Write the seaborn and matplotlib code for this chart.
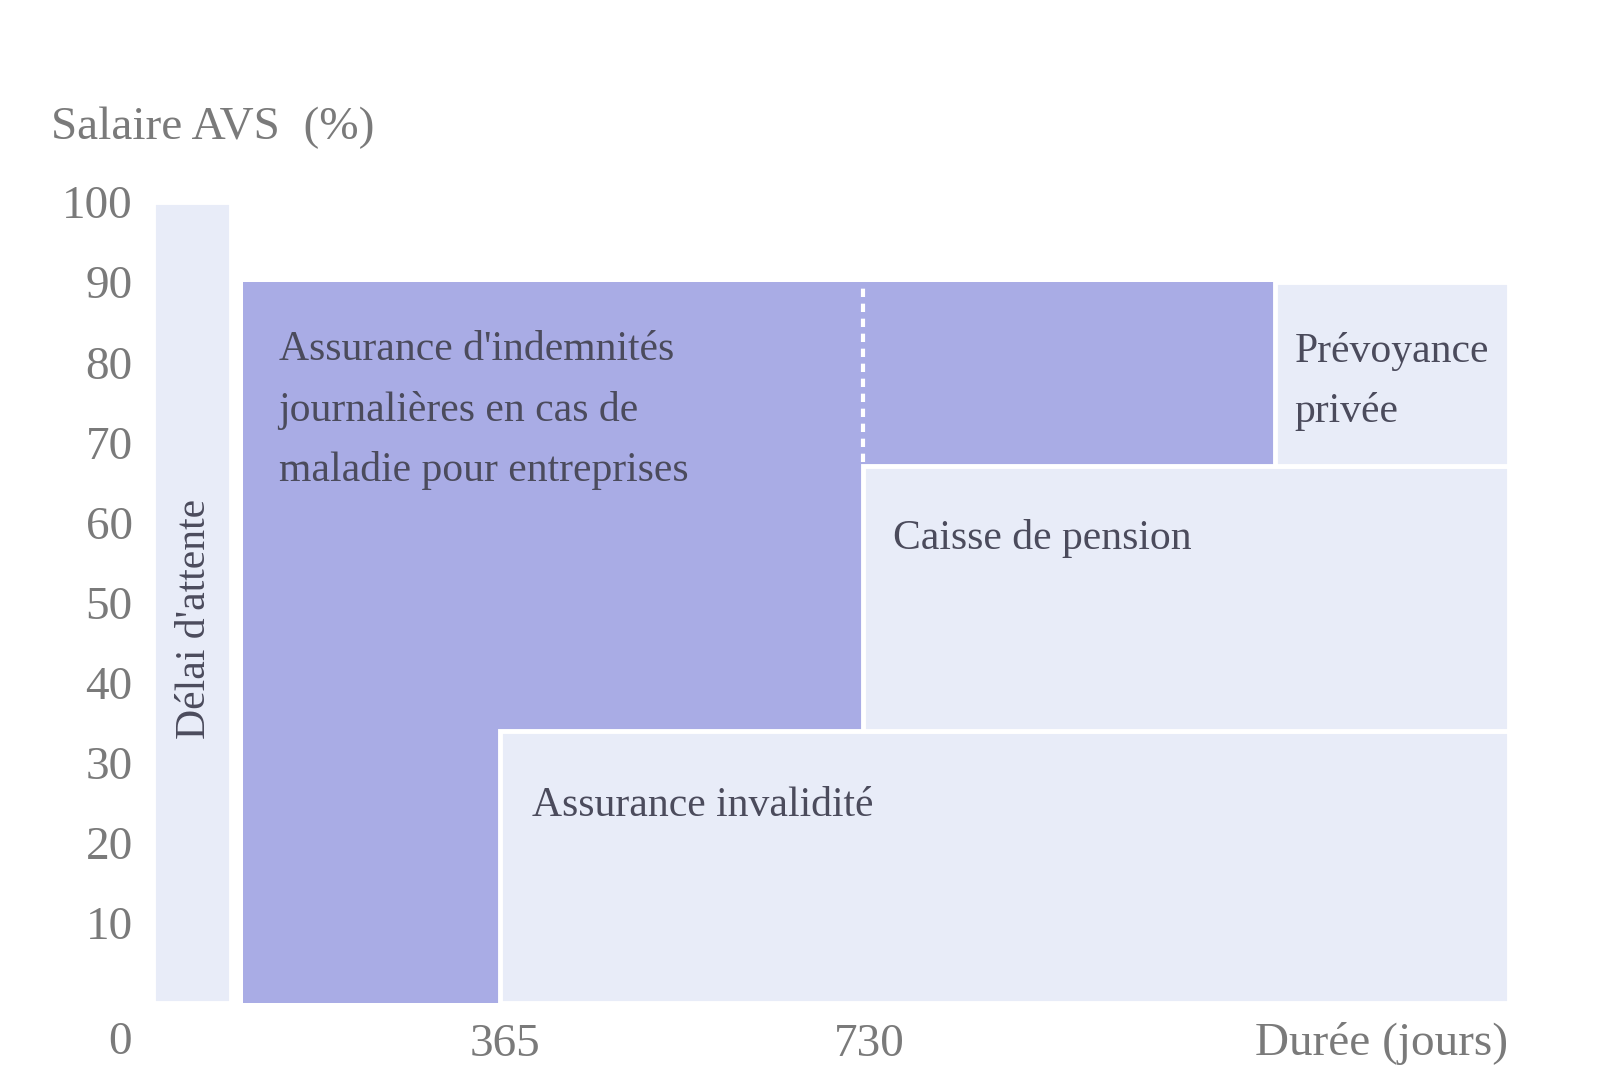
import matplotlib
matplotlib.use("Agg")
import matplotlib.pyplot as plt
import seaborn as sns

# blocks: x in days, y in % of AVS salary
dark_names = ["ijm_haut", "ijm_bas", "ijm_suite"]
dark_x0 = [102, 102, 724]
dark_x1 = [724, 360, 1137]
dark_y0 = [34, 0, 67]
dark_y1 = [90, 34, 90]

light_names = ["Délai d'attente", "Assurance invalidité", "Caisse de pension", "Prévoyance privée"]
light_x0 = [12, 360, 724, 1137]
light_x1 = [90, 1372, 1372, 1372]
light_y0 = [0, 0, 34, 67]
light_y1 = [100, 34, 67, 90]

y_ticks = [10, 20, 30, 40, 50, 60, 70, 80, 90, 100]
x_ticks = [365, 730]

DARK = "#a9ace5"
LIGHT = "#e8ecf8"
GREY = "#7a7a7a"
TXT = "#4b4b5c"
AX_FS = 34
LBL_FS = 30

sns.set_theme(style="white")
plt.rcParams["font.family"] = ["Liberation Serif", "DejaVu Serif"]

fig = plt.figure(figsize=(16, 10.9), dpi=100)
ax = fig.add_axes([0.0881, 0.0798, 0.885, 0.8083])

ax.bar(dark_x0, [b - a for a, b in zip(dark_y0, dark_y1)],
       width=[b - a for a, b in zip(dark_x0, dark_x1)],
       bottom=dark_y0, align="edge", color=DARK, linewidth=0)
ax.bar(light_x0, [b - a for a, b in zip(light_y0, light_y1)],
       width=[b - a for a, b in zip(light_x0, light_x1)],
       bottom=light_y0, align="edge", color=LIGHT,
       edgecolor="white", linewidth=3.5)

# dashed separation inside the dark block
ax.plot([724, 724], [67.5, 89.5], color="white", lw=3, ls=(0, (2, 1.6)))

ax.set_xlim(0, 1420)
ax.set_ylim(0, 110)
ax.set_yticks(y_ticks)
ax.set_yticklabels([str(v) for v in y_ticks])
ax.set_xticks(x_ticks)
ax.set_xticklabels([str(v) for v in x_ticks])
ax.tick_params(axis="y", length=0, pad=6, labelsize=AX_FS, labelcolor=GREY)
ax.tick_params(axis="x", length=0, pad=15, labelsize=AX_FS, labelcolor=GREY)
sns.despine(ax=ax, left=True, bottom=True)

ax.text(-21, -5, "0", ha="center", va="center", fontsize=AX_FS, color=GREY)
ax.text(1371, -5, "Durée (jours)", ha="right", va="center", fontsize=AX_FS, color=GREY)
fig.text(0.032, 0.883, "Salaire AVS  (%)", ha="left", va="center", fontsize=AX_FS, color=GREY)

ax.text(54, 47.9, "Délai d'attente", rotation=90, ha="center", va="center",
        fontsize=LBL_FS, color=TXT)
ax.text(138, 74.0, "Assurance d'indemnités\njournalières en cas de\nmaladie pour entreprises",
        ha="left", va="center", fontsize=LBL_FS, color=TXT, linespacing=1.72)
ax.text(1157, 77.6, "Prévoyance\nprivée", ha="left", va="center", fontsize=LBL_FS,
        color=TXT, linespacing=1.72)
ax.text(754, 58, "Caisse de pension", ha="left", va="center", fontsize=LBL_FS, color=TXT)
ax.text(392, 24.6, "Assurance invalidité", ha="left", va="center", fontsize=LBL_FS, color=TXT)

fig.savefig("out.png", dpi=100, facecolor="white")
